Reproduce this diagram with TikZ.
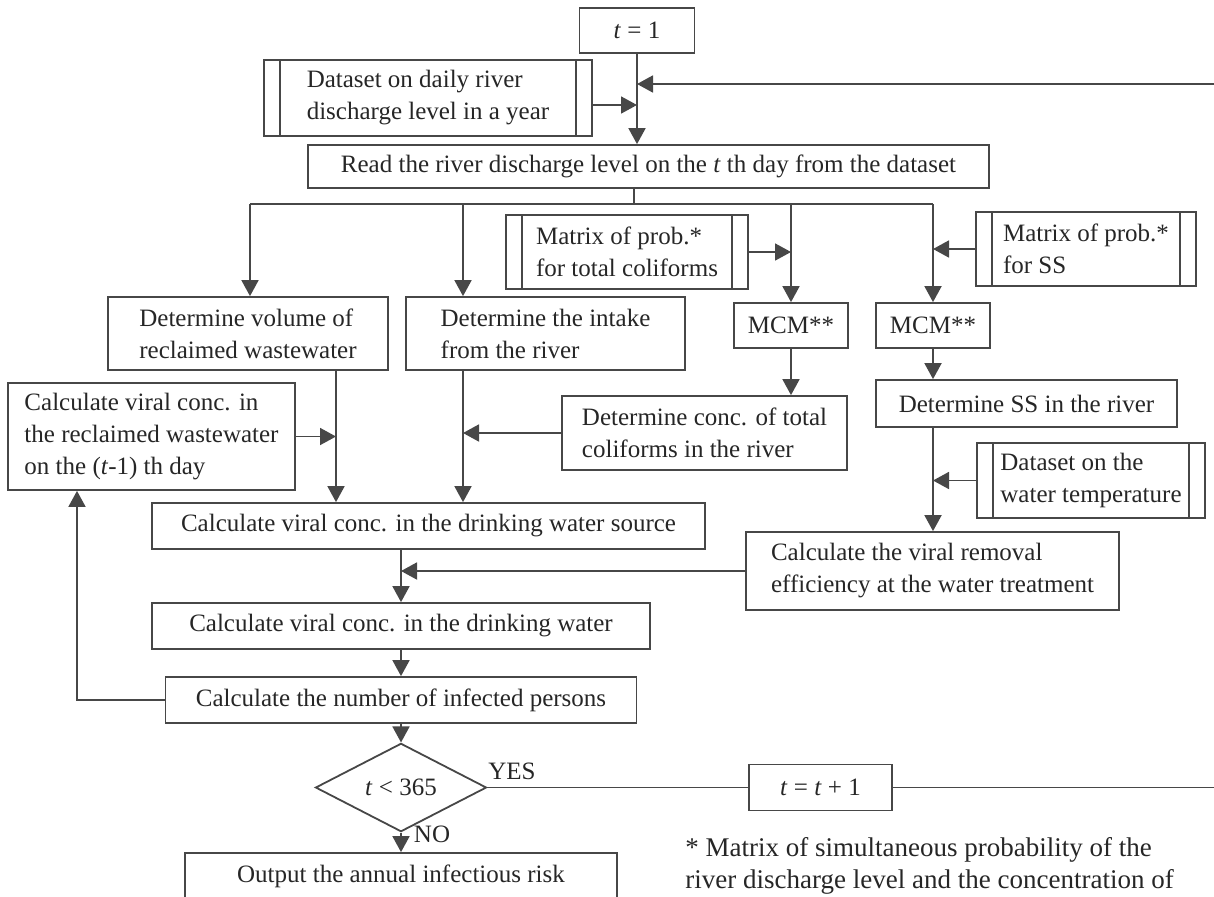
\documentclass[tikz,border=0pt]{standalone}
\usepackage{fontspec}
\setmainfont{Liberation Serif}
\usetikzlibrary{shapes.geometric,arrows.meta}

\begin{document}
\begin{tikzpicture}[x=0.5pt,y=-0.5pt,
  every node/.style={font=\fontsize{12.5}{16}\selectfont, text=black!85},
  box/.style={draw=black!72, line width=0.9pt, inner sep=2pt, align=left},
  databox/.style={box, path picture={
    \draw[black!72, line width=0.9pt] ([xshift=8pt]path picture bounding box.north west) -- ([xshift=8pt]path picture bounding box.south west);
    \draw[black!72, line width=0.9pt] ([xshift=-8pt]path picture bounding box.north east) -- ([xshift=-8pt]path picture bounding box.south east);}},
  conn/.style={draw=black!72, line width=0.9pt},
  arr/.style={conn, -{Triangle[length=8pt,width=8.5pt]}}]
  \useasboundingbox (0,0) rectangle (1214,896);

  % Start and daily input
  \node[box, minimum width=57.5pt, minimum height=22.5pt] (t1) at (637,30.5) {\textit{t} = 1};
  \node[databox, minimum width=164pt, minimum height=38pt] (data1) at (428,98) {Dataset on daily river\\discharge level in a year};
  \node[box, minimum width=340.5pt, minimum height=21.5pt] (read) at (648.5,166.5) {Read the river discharge level on the \textit{t} th day from the dataset};

  % Second row
  \node[box, minimum width=140pt, minimum height=36.5pt] (vol) at (248,333.5) {Determine volume of\\reclaimed wastewater};
  \node[box, minimum width=139.5pt, minimum height=36.5pt] (intake) at (545.5,333.5) {Determine the intake\\from the river};
  \node[databox, minimum width=121pt, minimum height=37pt] (matC) at (627,252) {Matrix of prob.*\\for total coliforms};
  \node[databox, minimum width=110pt, minimum height=37pt] (matS) at (1086,249) {Matrix of prob.*\\for SS};
  \node[box, minimum width=57pt, minimum height=22.5pt] (mcm1) at (791,325.5) {MCM**};
  \node[box, minimum width=57pt, minimum height=22.5pt] (mcm2) at (933,325.5) {MCM**};

  % Third row
  \node[box, minimum width=143.5pt, minimum height=53.5pt] (recl) at (151.5,436.5) {Calculate viral conc. in\\the reclaimed wastewater\\on the (\textit{t}-1) th day};
  \node[box, minimum width=142.5pt, minimum height=37pt] (concC) at (704.5,433) {Determine conc. of total\\coliforms in the river};
  \node[box, minimum width=150.5pt, minimum height=23.5pt] (ssd) at (1026.5,403.5) {Determine SS in the river};
  \node[databox, minimum width=114pt, minimum height=37.5pt] (temp) at (1091,480.5) {Dataset on the\\water temperature};

  % Lower column
  \node[box, minimum width=276.5pt, minimum height=23pt] (src) at (428.5,526) {Calculate viral conc. in the drinking water source};
  \node[box, minimum width=186.5pt, minimum height=39pt] (rem) at (932.5,571) {Calculate the viral removal\\efficiency at the water treatment};
  \node[box, minimum width=249pt, minimum height=23pt] (dw) at (401,626) {Calculate viral conc. in the drinking water};
  \node[box, minimum width=235.5pt, minimum height=23pt] (inf) at (401,700) {Calculate the number of infected persons};
  \node[box, diamond, inner sep=0pt, minimum width=85.5pt, minimum height=35pt] (dia) at (401,787.5) {\textit{t} < 365};
  \node[box, minimum width=71.5pt, minimum height=23pt] (tinc) at (820.5,787.5) {\textit{t} = \textit{t} + 1};
  \node[box, minimum width=216pt, minimum height=23pt] (out) at (401,876) {Output the annual infectious risk};
  \node (yes) at (512,771) {YES};
  \node (no) at (432,834) {NO};
  \node[anchor=west, align=left, inner sep=0pt, font=\fontsize{13.5}{16}\selectfont] (note) at (685,866) {* Matrix of simultaneous probability of the\\river discharge level and the concentration of};

  % Junctions
  \coordinate (jdata) at (637,105);
  \coordinate (jback) at (637,84);
  \coordinate (rc) at (1224,84);
  \coordinate (split) at (634,204);
  \coordinate (dl) at (250,204);
  \coordinate (bi) at (463,204);
  \coordinate (bc) at (791,204);
  \coordinate (dr) at (933,204);
  \coordinate (cv) at (336,370);
  \coordinate (cm) at (401,572);
  \coordinate (cl) at (77,700);

  % Top part
  \draw[arr] (t1.south) -- (t1.south |- read.north);
  \draw[arr] (data1.east |- jdata) -- (jdata);
  \draw[arr] (tinc.east) -| (rc) -- (jback);
  \draw[conn] (split |- read.south) -- (split);
  \draw[conn] (dl) -- (dr);
  \draw[arr] (dl) -- (dl |- vol.north);
  \draw[arr] (bi) -- (bi |- intake.north);
  \draw[arr] (bc) -- (bc |- mcm1.north);
  \draw[arr] (dr) -- (dr |- mcm2.north);
  \draw[arr] (matC.east) -- (matC.east -| bc);
  \draw[arr] (matS.west) -- (matS.west -| dr);

  % Middle part
  \draw[arr] (mcm1.south) -- (mcm1.south |- concC.north);
  \draw[arr] (mcm2.south) -- (mcm2.south |- ssd.north);
  \draw[arr] (mcm2 |- ssd.south) -- (mcm2 |- rem.north);
  \draw[arr] (temp.west) -- (temp.west -| mcm2);
  \draw[arr] (cv |- vol.south) -- (cv |- src.north);
  \draw[arr] (recl.east) -- (recl.east -| cv);
  \draw[arr] (bi |- intake.south) -- (bi |- src.north);
  \draw[arr] (concC.west) -- (concC.west -| bi);

  % Lower part
  \draw[arr] (cm |- src.south) -- (cm |- dw.north);
  \draw[arr] (rem.west) -- (rem.west -| cm);
  \draw[arr] (dw.south) -- (inf.north);
  \draw[arr] (inf.west) -| (cl |- recl.south);
  \draw[arr] (inf.south) -- (dia.north);
  \draw[conn] (dia.east) -- (tinc.west);
  \draw[arr] (dia.south) -- (out.north);
\end{tikzpicture}
\end{document}
